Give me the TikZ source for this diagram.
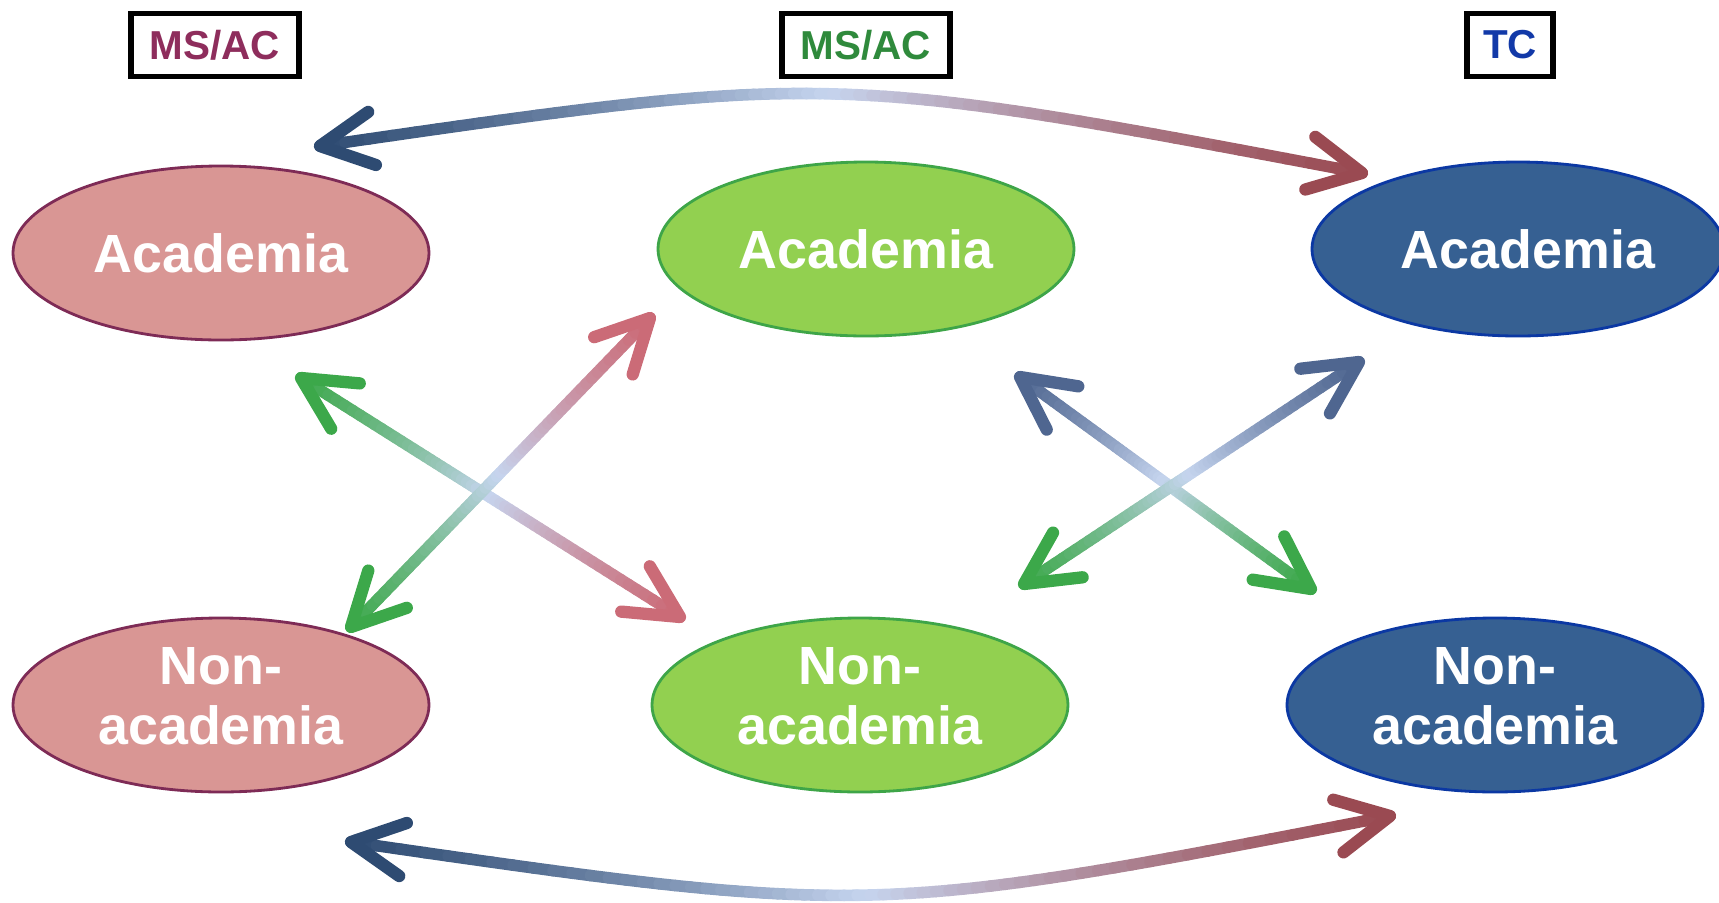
\documentclass[tikz,border=0pt]{standalone}
\usepackage{fontspec}
\setmainfont{Liberation Sans}
\usetikzlibrary{shapes.geometric}
\usetikzlibrary{calc}

\definecolor{pinkfill}{HTML}{D99694}
\definecolor{pinkedge}{HTML}{7E2B56}
\definecolor{greenfill}{HTML}{92D050}
\definecolor{greenedge}{HTML}{3EA548}
\definecolor{bluefill}{HTML}{366092}
\definecolor{blueedge}{HTML}{0B38A3}
\definecolor{msred}{HTML}{8E2D5C}
\definecolor{msgreen}{HTML}{2F8A3C}
\definecolor{tcblue}{HTML}{1239A8}
\definecolor{deepblue}{HTML}{2E4B72}
\definecolor{deepred}{HTML}{9A4A52}
\definecolor{paleblue}{HTML}{C6D5EF}
\definecolor{arrgreen}{HTML}{3CA84A}
\definecolor{arrpink}{HTML}{CB6B77}
\definecolor{slate}{HTML}{4F6690}

\tikzset{
	ell/.style={ellipse, minimum width=4.16cm, minimum height=1.74cm, inner sep=0pt, line width=0.8pt, text=white, align=center, font=\fontsize{15.3}{16.8}\selectfont\bfseries},
	tag/.style={draw=black, line width=1.6pt, fill=white, minimum height=0.63cm, inner sep=0pt, font=\fontsize{11.5}{13}\selectfont\bfseries},
	shaft/.style={line width=3.3pt, line cap=round},
	barb/.style={line width=3.5pt, line cap=round, line join=round}
}

\newcommand{\gradarrow}[5]{%
	\foreach \k in {0,...,59}{%
		\pgfmathsetmacro\segA{\k/60}%
		\pgfmathsetmacro\segB{(\k+1)/60}%
		\pgfmathtruncatemacro\segP{round(200*(\k+0.5)/60)}%
		\ifnum\segP<100 \colorlet{segcol}{paleblue!\segP!#4}%
		\else \pgfmathtruncatemacro\segQ{\segP-100}\colorlet{segcol}{#5!\segQ!paleblue}\fi
		\path (#1) .. controls (#2) .. (#3) coordinate[pos=\segA] (sa) coordinate[pos=\segB] (sb);
		\draw[shaft, segcol] (sa) -- (sb);
	}%
	\draw[barb, #4] ($(#1)!0.59cm!27:(#2)$) -- (#1) -- ($(#1)!0.59cm!-27:(#2)$);
	\draw[barb, #5] ($(#3)!0.59cm!27:(#2)$) -- (#3) -- ($(#3)!0.59cm!-27:(#2)$);
}

\begin{document}
\begin{tikzpicture}
	\useasboundingbox (0,0) rectangle (17.19,9.02);
	\node[tag, text=msred, minimum width=1.68cm] (tagL) at (2.15,8.57) {MS/AC};
	\node[tag, text=msgreen, minimum width=1.68cm] (tagM) at (8.66,8.57) {MS/AC};
	\node[tag, text=tcblue, minimum width=0.86cm] (tagR) at (15.10,8.57) {TC};
	\node[ell, fill=pinkfill, draw=pinkedge] (acL) at (2.21,6.49) {Academia};
	\node[ell, fill=greenfill, draw=greenedge] (acM) at (8.66,6.53) {Academia};
	\node[ell, fill=bluefill, draw=blueedge, minimum width=4.12cm] (acR) at (15.18,6.53) {\hspace{0.2cm}Academia};
	\node[ell, fill=pinkfill, draw=pinkedge, text depth=0.18cm] (naL) at (2.21,1.97) {Non-\\academia};
	\node[ell, fill=greenfill, draw=greenedge, text depth=0.18cm] (naM) at (8.60,1.97) {Non-\\academia};
	\node[ell, fill=bluefill, draw=blueedge, text depth=0.18cm] (naR) at (14.95,1.97) {Non-\\academia};
	\coordinate (topL) at (3.20,7.56);
	\coordinate (topC) at (8.30,8.30);
	\coordinate (topR) at (13.62,7.29);
	\coordinate (botL) at (3.51,0.60);
	\coordinate (botC) at (8.70,-0.15);
	\coordinate (botR) at (13.90,0.86);
	\coordinate (aS) at (3.51,2.75);
	\coordinate (aE) at (6.50,5.84);
	\coordinate (aC) at ($(aS)!0.5!(aE)$);
	\coordinate (bS) at (3.01,5.24);
	\coordinate (bE) at (6.80,2.85);
	\coordinate (bC) at ($(bS)!0.5!(bE)$);
	\coordinate (cS) at (10.20,5.25);
	\coordinate (cE) at (13.11,3.13);
	\coordinate (cC) at ($(cS)!0.5!(cE)$);
	\coordinate (dS) at (10.24,3.18);
	\coordinate (dE) at (13.59,5.40);
	\coordinate (dC) at ($(dS)!0.5!(dE)$);
	\gradarrow{topL}{topC}{topR}{deepblue}{deepred}
	\gradarrow{botL}{botC}{botR}{deepblue}{deepred}
	\gradarrow{bS}{bC}{bE}{arrgreen}{arrpink}
	\gradarrow{aS}{aC}{aE}{arrgreen}{arrpink}
	\gradarrow{cS}{cC}{cE}{slate}{arrgreen}
	\gradarrow{dS}{dC}{dE}{arrgreen}{slate}
\end{tikzpicture}
\end{document}
